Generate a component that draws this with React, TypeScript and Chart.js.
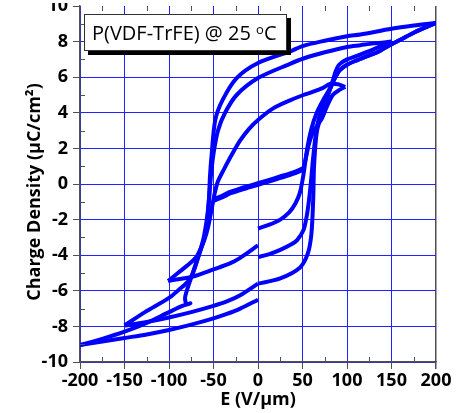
import React, { useEffect, useRef } from 'react';
import { Chart, registerables } from 'chart.js';
Chart.register(...registerables);

// Axis ranges / ticks
const xMin = -200, xMax = 200, xStep = 50;
const yMin = -10, yMax = 10, yStep = 2;
const xTitle = 'E (V/μm)';
const yTitle = 'Charge Density (μC/cm²)';

// Initial (nearly linear) response
const initE = [-50, -40, -31, -20, -10, 0, 10, 25, 40, 51];
const initP = [-0.9, -0.7, -0.48, -0.3, -0.15, 0, 0.15, 0.38, 0.62, 0.85];

// ±100 V/µm loop
const rise100E = [51, 54, 57, 60, 64, 68, 72, 77, 84, 92, 98];
const rise100P = [0.85, 1.5, 2.2, 2.7, 3.1, 3.4, 3.7, 4.3, 5.0, 5.3, 5.45];
const desc100E = [98, 90, 81, 73, 60, 51, 36, 17, 0, -10, -20, -30, -38, -45, -49, -52, -56, -60, -65, -70, -80, -90, -101];
const desc100P = [5.45, 5.6, 5.62, 5.4, 5.15, 5.0, 4.7, 4.25, 3.6, 3.1, 2.45, 1.6, 0.85, 0.15, -0.6, -1.4, -2.4, -3.1, -3.7, -4.15, -4.6, -5.0, -5.45];
const ret100E = [-101, -90, -73, -50, -31, -20, 0];
const ret100P = [-5.45, -5.35, -5.2, -4.8, -4.45, -4.15, -3.45];

// ±150 V/µm loop
const rise150E = [0, 12, 25, 35, 42, 47, 51, 55, 60, 66, 73, 80, 84, 87, 91, 100, 111, 129, 150];
const rise150P = [-2.5, -2.3, -2.0, -1.6, -1.1, -0.5, 0.5, 1.9, 3.1, 4.0, 4.7, 5.3, 5.8, 6.3, 6.7, 7.0, 7.2, 7.55, 8.0];
const desc150E = [150, 130, 115, 100, 75, 51, 36, 0, -24, -37, -45, -50, -53, -55, -57, -61, -66, -73, -79, -88, -100, -127, -150];
const desc150P = [8.0, 7.9, 7.8, 7.7, 7.4, 7.05, 6.75, 5.95, 5.0, 4.0, 3.0, 1.7, 0.4, -0.8, -1.8, -3.0, -3.9, -5.0, -5.5, -5.9, -6.4, -7.2, -7.95];
const ret150E = [-150, -125, -100, -75, -50, -35, -20, 0];
const ret150P = [-7.95, -7.75, -7.5, -7.2, -6.85, -6.6, -6.25, -5.6];

// ±200 V/µm loop
const start200aE = [0, 12, 25, 37, 44, 51, 54, 56, 58, 60, 62, 65, 69, 75, 80];
const start200aP = [-4.1, -3.95, -3.7, -3.4, -3.15, -2.6, -2.0, -1.4, -0.6, 0.4, 1.5, 2.8, 3.8, 4.6, 5.2];
const start200bE = [0, 25, 47, 56, 60, 62, 63, 66, 72, 77, 80];
const start200bP = [-5.6, -5.3, -4.7, -3.9, -2.8, -0.9, 1.0, 2.9, 4.0, 4.7, 5.2];
const rise200E = [84, 88, 92, 100, 111, 126, 134, 150, 160, 175, 200];
const rise200P = [5.7, 6.1, 6.4, 6.7, 6.95, 7.25, 7.4, 7.85, 8.1, 8.5, 9.05];
const desc200E = [200, 175, 150, 115, 100, 75, 50, 36, 0, -24, -40, -48, -52, -54, -55, -57, -60, -65, -71, -76, -80, -82, -80, -76, -85, -100, -125, -150, -175, -200];
const desc200P = [9.05, 8.9, 8.72, 8.4, 8.3, 8.05, 7.75, 7.45, 6.8, 5.95, 4.7, 3.6, 1.7, 0.4, -0.8, -2.0, -3.0, -3.8, -4.65, -5.4, -6.0, -6.4, -6.75, -6.7, -6.85, -7.2, -7.8, -8.3, -8.7, -9.05];
const ret200E = [-200, -175, -150, -125, -100, -75, -50, -35, -20, 0];
const ret200P = [-9.05, -8.85, -8.65, -8.45, -8.2, -7.9, -7.55, -7.3, -7.0, -6.5];

const zip = (e: number[], p: number[]) => e.map((v, i) => ({ x: v, y: p[i] }));

const BLUE = '#0000ff';
const AXIS = '#505050';
const FAMILY = '"Open Sans", sans-serif';
const TICK_FONT = { family: FAMILY, size: 18, weight: 'bold' as const };

const decorations = {
  id: 'decorations',
  afterDraw(chart: any) {
    const { ctx, chartArea: a, scales } = chart;
    const x = scales.x, y = scales.y;
    ctx.save();
    ctx.strokeStyle = AXIS;
    ctx.lineWidth = 1;
    ctx.beginPath();
    for (let v = xMin + xStep / 2; v < xMax; v += xStep) {
      const px = Math.round(x.getPixelForValue(v)) + 0.5;
      ctx.moveTo(px, a.bottom);
      ctx.lineTo(px, a.bottom - 5);
      ctx.moveTo(px, a.top);
      ctx.lineTo(px, a.top + 5);
    }
    for (let v = yMin + yStep / 2; v < yMax; v += yStep) {
      const py = Math.round(y.getPixelForValue(v)) + 0.5;
      ctx.moveTo(a.left, py);
      ctx.lineTo(a.left + 5, py);
    }
    ctx.stroke();
    // y axis title
    ctx.translate(35, (a.top + a.bottom) / 2 + 8);
    ctx.rotate(-Math.PI / 2);
    ctx.fillStyle = '#000';
    ctx.font = 'bold 18px ' + FAMILY;
    ctx.textAlign = 'center';
    ctx.textBaseline = 'middle';
    ctx.fillText(yTitle, 0, 0);
    ctx.restore();
  },
};

export default function App() {
  const ref = useRef<HTMLCanvasElement | null>(null);
  useEffect(() => {
    if (!ref.current) return;
    const line = (data: any[], w = 4) => ({
      data,
      showLine: true,
      borderColor: BLUE,
      backgroundColor: BLUE,
      borderWidth: w,
      pointRadius: 0,
      tension: 0.3,
      fill: false,
    });
    const chart = new Chart(ref.current, {
      type: 'scatter',
      data: {
        datasets: [
          line(zip(initE, initP), 5.5),
          line(zip(rise100E, rise100P)),
          line(zip(desc100E, desc100P)),
          line(zip(ret100E, ret100P)),
          line(zip(rise150E, rise150P)),
          line(zip(desc150E, desc150P)),
          line(zip(ret150E, ret150P)),
          line(zip(start200aE.concat(rise200E), start200aP.concat(rise200P))),
          line(zip(start200bE.concat(rise200E), start200bP.concat(rise200P))),
          line(zip(desc200E, desc200P)),
          line(zip(ret200E, ret200P)),
        ],
      },
      options: {
        responsive: false,
        animation: false,
        devicePixelRatio: 1,
        layout: { padding: { left: 0, right: 30, top: 26, bottom: 0 } },
        plugins: { legend: { display: false }, tooltip: { enabled: false } },
        scales: {
          x: {
            type: 'linear',
            min: xMin,
            max: xMax,
            afterFit: (s: any) => { s.height = 51; },
            ticks: { stepSize: xStep, color: '#000', font: TICK_FONT, padding: 1, maxRotation: 0 },
            grid: {
              color: (c: any) => (c.tick && c.tick.value === xMax ? AXIS : '#2222ff'),
              tickColor: AXIS,
              tickLength: 7,
              lineWidth: (c: any) => (c.tick && c.tick.value === xMax ? 1.5 : 1),
            },
            border: { color: AXIS, width: 1.5 },
            title: {
              display: true,
              text: xTitle,
              color: '#000',
              font: { family: FAMILY, size: 18, weight: 'bold' },
              padding: { top: 0, bottom: 2 },
            },
          },
          y: {
            type: 'linear',
            min: yMin,
            max: yMax,
            afterFit: (s: any) => { s.width = 80; },
            ticks: { stepSize: yStep, color: '#000', font: TICK_FONT, padding: 5 },
            grid: {
              color: (c: any) => (c.tick && c.tick.value === yMax ? 'rgba(0,0,0,0)' : '#2222ff'),
              tickColor: AXIS,
              tickLength: 7,
            },
            border: { color: AXIS, width: 1.5 },
          },
        },
      },
      plugins: [decorations],
    } as any);
    return () => chart.destroy();
  }, []);

  return (
    <div style={{ position: 'fixed', left: 0, top: 0, width: 466, height: 413, overflow: 'hidden', background: '#fff' }}>
      <canvas ref={ref} width={466} height={433} style={{ position: 'absolute', left: 0, top: -20, width: 466, height: 433 }} />
      <div style={{ position: 'absolute', left: 20, top: 0, width: 56, height: 3, background: '#fff' }} />
      <div
        style={{
          position: 'absolute',
          left: 84,
          top: 14,
          width: 194,
          height: 35,
          border: '1px solid #333',
          background: '#fff',
          boxShadow: '4px 4px 0 #000',
          fontFamily: FAMILY,
          fontSize: 20,
          lineHeight: '35px',
          paddingLeft: 7,
          boxSizing: 'content-box',
          color: '#000',
          whiteSpace: 'nowrap',
        }}
      >
        P(VDF-TrFE) @ 25 <sup style={{ fontSize: 13, verticalAlign: 'top', lineHeight: '28px' }}>o</sup>C
      </div>
    </div>
  );
}
